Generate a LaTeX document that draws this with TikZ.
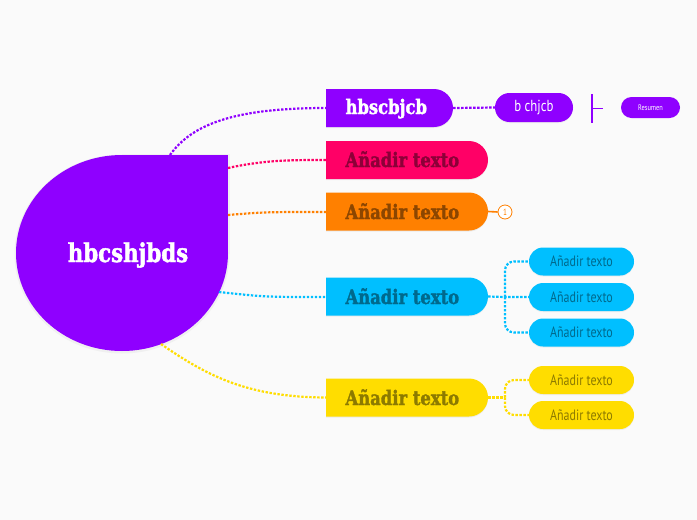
\documentclass[tikz,border=0pt]{standalone}
\usepackage{fontspec}
\usetikzlibrary{shapes.misc,shadows}
\newfontfamily\headfont{DejaVu Serif}[FakeStretch=0.82,FakeBold=1.6]
\newfontfamily\subfont{PT Sans}[FakeStretch=0.8]
\definecolor{bg}{HTML}{FAFAFA}
\definecolor{cpurple}{HTML}{8F00FF}
\definecolor{cpink}{HTML}{FF0066}
\definecolor{corange}{HTML}{FF8000}
\definecolor{cblue}{HTML}{00BFFF}
\definecolor{cyellow}{HTML}{FFDD00}
\begin{document}
\begin{tikzpicture}[x=1pt,y=-1pt,
  dots/.style={line width=2.2pt, dash pattern=on 2.4pt off 1.6pt},
  mainbox/.style={rounded rectangle, rounded rectangle left arc=none, minimum height=38pt, inner sep=0pt, drop shadow={opacity=0.12, shadow xshift=0pt, shadow yshift=-1pt}},
  subbox/.style={rounded rectangle, minimum height=28pt, minimum width=105pt, inner sep=0pt, font=\subfont\fontsize{15}{17}\selectfont, drop shadow={opacity=0.1, shadow xshift=0pt, shadow yshift=-1pt}},
  headtext/.style={anchor=base west, font=\headfont\bfseries\fontsize{20}{22}\selectfont}]
\fill[bg] (0,0) rectangle (697,520);
\useasboundingbox (0,0) rectangle (697,520);
% central shape shadow
\fill[black!6] (122,254) ellipse [x radius=107.5pt, y radius=99.5pt];
\fill[black!6] (122,154) rectangle (229.5,254);
% central shape
\fill[cpurple] (122,253) ellipse [x radius=106pt, y radius=98pt];
\fill[cpurple] (122,155) rectangle (228,253);
\node[anchor=base, text=white, font=\headfont\bfseries\fontsize{26}{28}\selectfont] (center) at (128,262) {hbcshjbds};
\coordinate (cp) at (170,155);
\coordinate (cpk) at (228,168);
\coordinate (co) at (228,215);
\coordinate (cb) at (219,292);
\coordinate (cy) at (161,344);
% main connectors
\draw[dots, cpurple] (cp) .. controls (192,124) and (235,108) .. (326,108);
\draw[dots, cpink] (cpk) .. controls (265,160) and (290,160) .. (326,160);
\draw[dots, corange] (co) .. controls (265,212) .. (326,212);
\draw[dots, cblue] (cb) .. controls (265,297) .. (326,297);
\draw[dots, cyellow] (cy) .. controls (210,378) and (250,397) .. (326,397.5);
% main nodes
\node[mainbox, fill=cpurple, minimum width=127pt] (n1) at (389.5,108) {};
\node[headtext, text=white] (t1) at (342,114) {hbscbjcb};
\node[mainbox, fill=cpink, minimum width=162pt] (n2) at (407,160) {};
\node[headtext, text=cpink!55!black] (t2) at (342,167) {Añadir texto};
\node[mainbox, fill=corange, minimum width=162pt] (n3) at (407,211.5) {};
\node[headtext, text=corange!55!black] (t3) at (342,219) {Añadir texto};
\node[mainbox, fill=cblue, minimum width=162pt] (n4) at (407,296.5) {};
\node[headtext, text=cblue!55!black] (t4) at (342,304) {Añadir texto};
\node[mainbox, fill=cyellow, minimum width=162pt] (n5) at (407,397.5) {};
\node[headtext, text=cyellow!55!black] (t5) at (342,405) {Añadir texto};
% purple branch
\node[subbox, fill=cpurple, text=white, minimum width=78pt, minimum height=29pt, font=\subfont\fontsize{16}{18}\selectfont] (s0) at (534,107.5) {b chjcb};
\draw[dots, cpurple] (n1.east) -- (s0.west);
\coordinate (bt) at (592,94);
\coordinate (bb) at (592,123);
\coordinate (bm) at (592,108.5);
\coordinate (bk) at (603,108.5);
\draw[cpurple, line width=1.8pt] (bt) -- (bb);
\draw[cpurple, line width=1.8pt] (bm) -- (bk);
\node[rounded rectangle, fill=cpurple, text=white, minimum width=59pt, minimum height=21pt, inner sep=0pt, font=\subfont\fontsize{8}{9}\selectfont] (r) at (650.5,107.5) {Resumen};
% orange marker
\node[circle, draw=corange, fill=white, line width=0.8pt, minimum size=14pt, inner sep=0pt, text=corange, font=\subfont\fontsize{9}{10}\selectfont] (one) at (505,212) {1};
\draw[corange, line width=1.6pt] (n3.east) -- (one.west);
% blue branch
\node[subbox, fill=cblue, text=cblue!55!black] (b1) at (581.5,261.5) {Añadir texto};
\node[subbox, fill=cblue, text=cblue!55!black] (b2) at (581.5,297) {Añadir texto};
\node[subbox, fill=cblue, text=cblue!55!black] (b3) at (581.5,332.5) {Añadir texto};
\coordinate (bj) at (505,297);
\draw[dots, cblue] (n4.east) -- (bj) -- (b2.west);
\draw[dots, cblue, rounded corners=9pt] (bj) |- (b1.west);
\draw[dots, cblue, rounded corners=9pt] (bj) |- (b3.west);
% yellow branch
\node[subbox, fill=cyellow, text=cyellow!55!black] (y1) at (581.5,380) {Añadir texto};
\node[subbox, fill=cyellow, text=cyellow!55!black] (y2) at (581.5,415) {Añadir texto};
\coordinate (yj) at (505,397.5);
\draw[dots, cyellow] (n5.east) -- (yj);
\draw[dots, cyellow, rounded corners=9pt] (yj) |- (y1.west);
\draw[dots, cyellow, rounded corners=9pt] (yj) |- (y2.west);
\end{tikzpicture}
\end{document}
